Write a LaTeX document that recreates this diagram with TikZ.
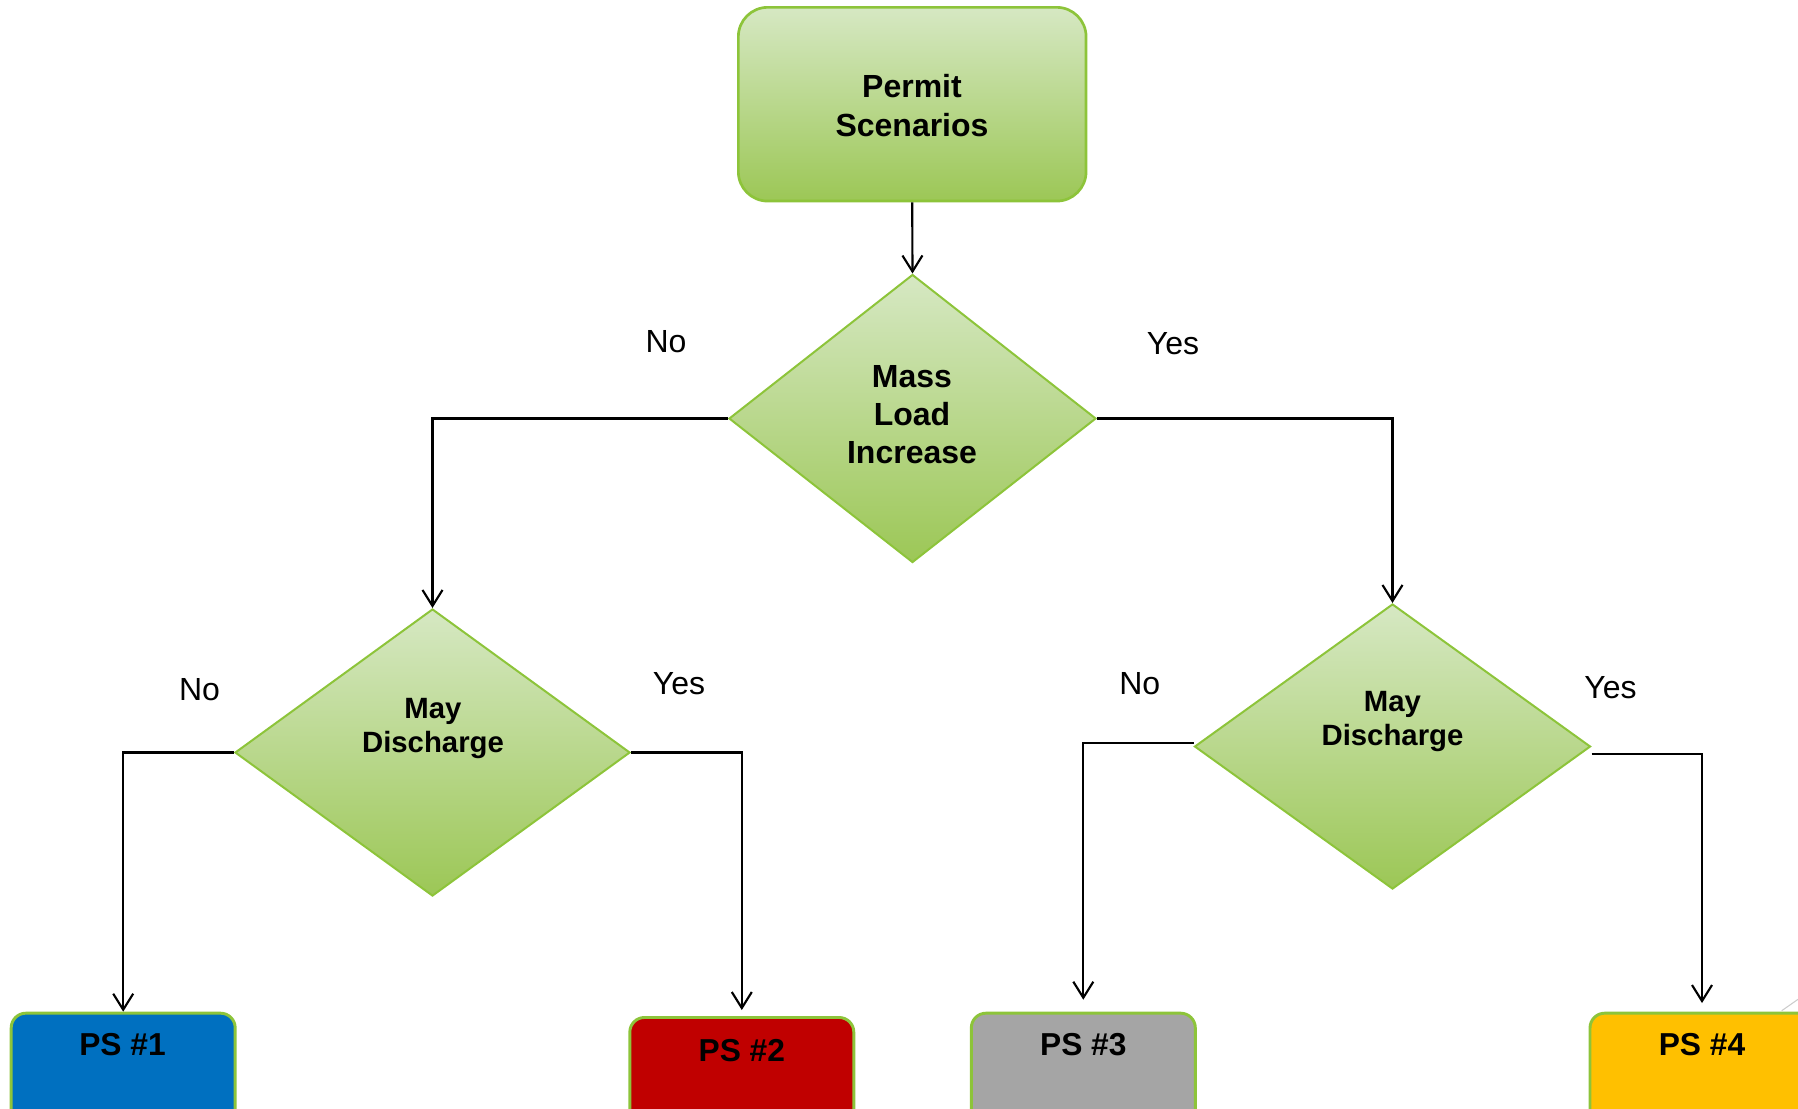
\documentclass[tikz,border=0pt]{standalone}
\usepackage{fontspec}
\setmainfont{Liberation Sans}
\usetikzlibrary{arrows.meta,shapes.geometric}
\definecolor{gtop}{RGB}{214,232,195}
\definecolor{gbot}{RGB}{156,199,86}
\definecolor{gborder}{RGB}{141,196,58}
\definecolor{psblue}{HTML}{0070C0}
\definecolor{psred}{HTML}{C00000}
\definecolor{psgray}{HTML}{A5A5A5}
\definecolor{psgold}{HTML}{FFC000}
\tikzset{
  greenfill/.style={top color=gtop, bottom color=gbot, draw=gborder},
  topbox/.style={greenfill, rectangle, rounded corners=22pt, line width=2pt, inner sep=0pt},
  decision/.style={greenfill, diamond, line width=1.5pt, inner sep=0pt},
  psbox/.style={rectangle, rounded corners=11pt, draw=gborder, line width=2.2pt, minimum width=168pt, minimum height=96pt, inner sep=0pt, anchor=north},
  boldtxt/.style={font=\fontsize{24pt}{29.2pt}\selectfont\bfseries, align=center, inner sep=0pt},
  dtxt/.style={font=\fontsize{22pt}{25.5pt}\selectfont\bfseries, align=center, inner sep=0pt},
  pstxt/.style={font=\fontsize{23.8pt}{28pt}\selectfont\bfseries, inner sep=0pt},
  lbl/.style={font=\fontsize{24pt}{28pt}\selectfont, inner sep=0pt},
  conn/.style={draw=black, line width=1.6pt, -{Straight Barb[length=12pt,width=15pt]}}
}
\begin{document}
\begin{tikzpicture}[x=0.75pt,y=-0.75pt]
\useasboundingbox (0,0) rectangle (1798,1108);
\clip (0,0) rectangle (1798,1108);
% top box
\node[topbox, minimum width=260.8pt, minimum height=145.3pt] (top) at (912.2,104.2) {};
\node[boldtxt] (toptxt) at (912,105.2) {Permit\\Scenarios};
% decisions
\node[decision, minimum width=275.3pt, minimum height=216pt] (d1) at (912.5,418.5) {};
\node[boldtxt, font=\fontsize{24pt}{28.7pt}\selectfont\bfseries] (d1t) at (912,414.8) {Mass\\Load\\Increase};
\node[decision, minimum width=296.3pt, minimum height=215.3pt] (d2) at (432.5,752.5) {};
\node[dtxt] (d2t) at (433,728.5) {May\\Discharge};
\node[decision, minimum width=297pt, minimum height=213.8pt] (d3) at (1392.5,746.5) {};
\node[dtxt] (d3t) at (1392.5,721) {May\\Discharge};
% artifact line
\draw[black!20, line width=0.8pt] (1781.7,1010.7) -- (1798,999.3);
% outcome boxes
\node[psbox, fill=psblue] (ps1) at (123.2,1011.7) {};
\node[psbox, fill=psred] (ps2) at (741.8,1016) {};
\node[psbox, fill=psgray] (ps3) at (1083.3,1011.7) {};
\node[psbox, fill=psgold] (ps4) at (1702,1011.7) {};
\node[pstxt] (ps1t) at (122.5,1045) {PS \#1};
\node[pstxt] (ps2t) at (741.8,1051) {PS \#2};
\node[pstxt] (ps3t) at (1083.3,1045) {PS \#3};
\node[pstxt] (ps4t) at (1702,1045) {PS \#4};
% labels
\node[lbl] (no1) at (666,342) {No};
\node[lbl] (yes1) at (1173,344) {Yes};
\node[lbl] (no2) at (199.5,690) {No};
\node[lbl] (yes2) at (679,683.5) {Yes};
\node[lbl] (no3) at (1139.7,684) {No};
\node[lbl] (yes3) at (1610.5,688) {Yes};
% connectors
\draw[conn] (top.south) -- (d1.north);
\draw[conn] (d1.west) -| (d2.north);
\draw[conn] (d1.east) -| (d3.north);
\draw[conn] (d2.west) -| (ps1.north);
\draw[conn, shorten >=4.5pt] (d2.east) -| (ps2.north);
\draw[conn, shorten >=9pt] ([yshift=2.5pt]d3.west) -| (ps3.north);
\draw[conn, shorten >=6.5pt] ([yshift=-5.8pt]d3.east) -| (ps4.north);
\end{tikzpicture}
\end{document}
